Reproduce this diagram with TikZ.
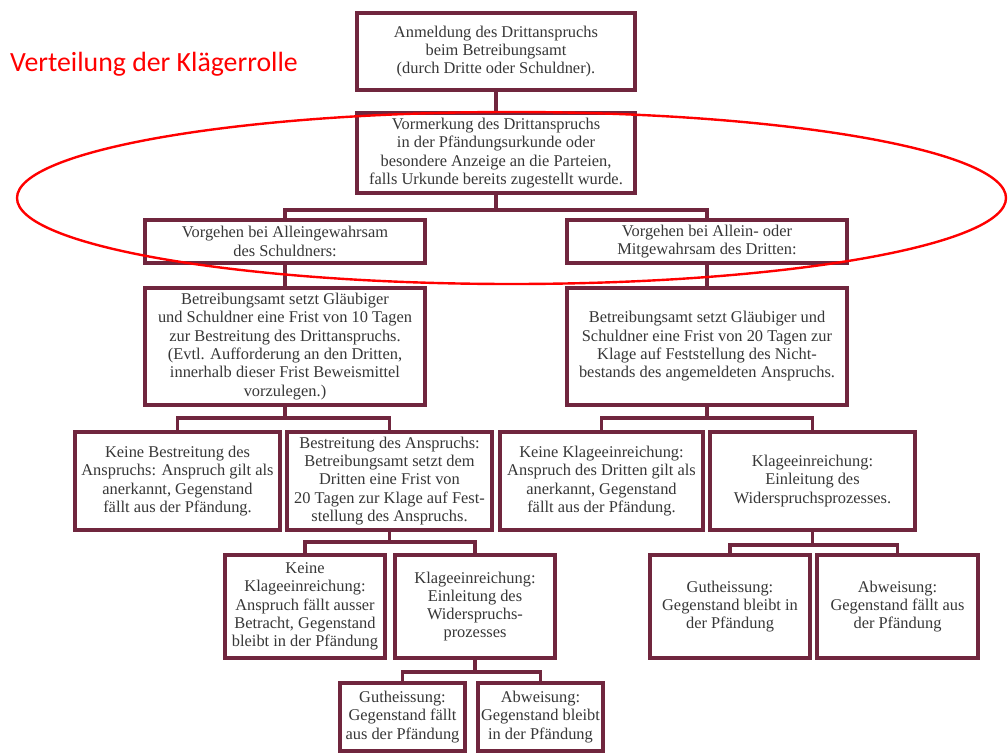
\documentclass[tikz,border=0pt]{standalone}
\usepackage{fontspec}
\setmainfont{Liberation Serif}
\newfontfamily\titlefont{Carlito}
\definecolor{frame}{RGB}{112,38,62}
\definecolor{txt}{RGB}{55,55,55}
\tikzset{
  box/.style={draw=frame, line width=3.3pt, fill=white, inner sep=0pt, align=center,
    text=txt, font=\fontsize{16.4}{18.3}\selectfont},
  conn/.style={draw=frame, line width=3.3pt},
  mark ring/.style={draw=red, line width=2.4pt},
}
\newcommand\mkbox[6]{\node[box, minimum width={#4-#2}, minimum height={#5-#3}] (#1) at ({(#2+#4)/2},{(#3+#5)/2}) {#6};}
\begin{document}
\begin{tikzpicture}[x=1pt,y=-1pt]
\useasboundingbox[fill=white] (0,0) rectangle (1008,754);
\node[anchor=base west, text=red, font=\titlefont\fontsize{27.8}{30}\selectfont, inner sep=0pt] (title) at (10,72) {Verteilung der Klägerrolle};

\mkbox{A}{357}{13}{635}{90}{Anmeldung des Drittanspruchs\\beim Betreibungsamt\\(durch Dritte oder Schuldner).}
\mkbox{B}{357}{113}{635}{193}{Vormerkung des Drittanspruchs\\in der Pfändungsurkunde oder\\besondere Anzeige an die Parteien,\\falls Urkunde bereits zugestellt wurde.}
\mkbox{C1}{145}{220}{425}{263}{Vorgehen bei Alleingewahrsam\\des Schuldners:}
\mkbox{C2}{567}{220}{847}{263}{Vorgehen bei Allein- oder\\Mitgewahrsam des Dritten:}
\mkbox{D1}{145}{288}{425}{405}{Betreibungsamt setzt Gläubiger\\und Schuldner eine Frist von 10 Tagen\\zur Bestreitung des Drittanspruchs.\\(Evtl. Aufforderung an den Dritten,\\innerhalb dieser Frist Beweismittel\\vorzulegen.)}
\mkbox{D2}{567}{288}{847}{405}{Betreibungsamt setzt Gläubiger und\\Schuldner eine Frist von 20 Tagen zur\\Klage auf Feststellung des Nicht-\\bestands des angemeldeten Anspruchs.}
\mkbox{E1}{75}{432}{280}{530}{Keine Bestreitung des\\Anspruchs: Anspruch gilt als\\anerkannt, Gegenstand\\fällt aus der Pfändung.}
\mkbox{E2}{287}{432}{492}{530}{Bestreitung des Anspruchs:\\Betreibungsamt setzt dem\\Dritten eine Frist von\\20 Tagen zur Klage auf Fest-\\stellung des Anspruchs.}
\mkbox{E3}{500}{432}{703}{530}{Keine Klageeinreichung:\\Anspruch des Dritten gilt als\\anerkannt, Gegenstand\\fällt aus der Pfändung.}
\mkbox{E4}{710}{432}{915}{530}{Klageeinreichung:\\Einleitung des\\Widerspruchsprozesses.}
\mkbox{F1}{225}{555}{385}{658}{Keine\\Klageeinreichung:\\Anspruch fällt ausser\\Betracht, Gegenstand\\bleibt in der Pfändung}
\mkbox{F2}{395}{555}{555}{658}{Klageeinreichung:\\Einleitung des\\Widerspruchs-\\prozesses}
\mkbox{G1}{340}{683}{465}{751}{Gutheissung:\\Gegenstand fällt\\aus der Pfändung}
\mkbox{G2}{478}{683}{603}{751}{Abweisung:\\Gegenstand bleibt\\in der Pfändung}
\mkbox{H1}{650}{555}{810}{658}{Gutheissung:\\Gegenstand bleibt in\\der Pfändung}
\mkbox{H2}{817}{555}{978}{658}{Abweisung:\\Gegenstand fällt aus\\der Pfändung}

\draw[conn] (A.south) -- (B.north);
\draw[conn] (B.south) -- (B.south |- 0,210);
\draw[conn] (C1.north) |- (B.south |- 0,210) -| (C2.north);
\draw[conn] (C1.south) -- (D1.north);
\draw[conn] (C2.south) -- (D2.north);
\draw[conn] (D1.south) -- (D1.south |- 0,418);
\draw[conn] (E1.north) |- (D1.south |- 0,418) -| (E2.north);
\draw[conn] (D2.south) -- (D2.south |- 0,418);
\draw[conn] (E3.north) |- (D2.south |- 0,418) -| (E4.north);
\draw[conn] (E2.south) -- (E2.south |- 0,542);
\draw[conn] (F1.north) |- (E2.south |- 0,542) -| (F2.north);
\draw[conn] (F2.south) -- (F2.south |- 0,672);
\draw[conn] (G1.north) |- (F2.south |- 0,672) -| (G2.north);
\draw[conn] (E4.south) -- (E4.south |- 0,545);
\draw[conn] (H1.north) |- (E4.south |- 0,545) -| (H2.north);

\draw[mark ring] (511.5,198) ellipse [x radius=494.5, y radius=86];
\end{tikzpicture}
\end{document}
